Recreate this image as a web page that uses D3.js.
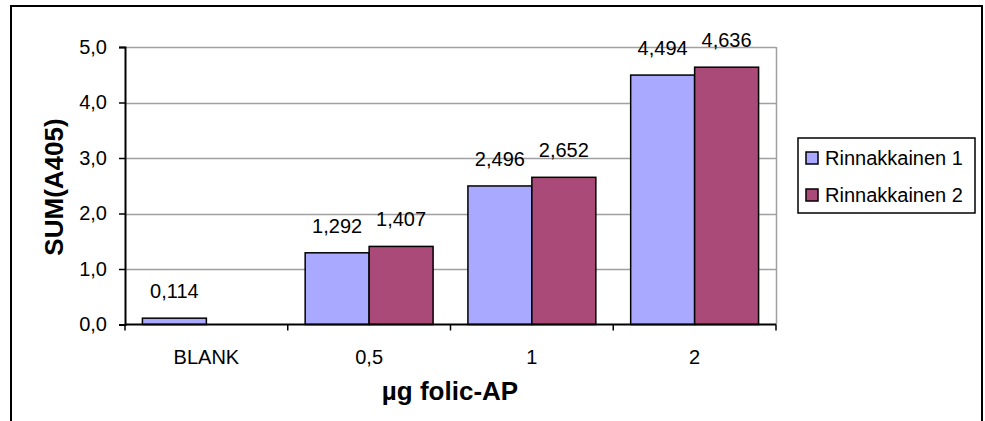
<!DOCTYPE html>
<html>
<head>
<meta charset="utf-8">
<script src="https://cdn.jsdelivr.net/npm/d3@7"></script>
<style>
  html, body { margin: 0; padding: 0; background: #fff; }
  svg { display: block; font-family: "Liberation Sans", Arial, sans-serif; }
</style>
</head>
<body>
<div id="chart"></div>
<script>
const categories = ["BLANK", "0,5", "1", "2"];
const seriesNames = ["Rinnakkainen 1", "Rinnakkainen 2"];
const rinnakkainen1 = [0.114, 1.292, 2.496, 4.494];
const rinnakkainen2 = [null, 1.407, 2.652, 4.636];
const yTicks = [0, 1, 2, 3, 4, 5];
const colors = ["#a9a9ff", "#a94a78"];

const width = 985, height = 421;
const margin = { top: 47, right: 209, bottom: 96.5, left: 125 };

const svg = d3.select("#chart").append("svg")
  .attr("width", width)
  .attr("height", height);

// outer chart border (bottom edge falls outside the picture)
svg.append("rect")
  .attr("x", 11).attr("y", 6)
  .attr("width", 971).attr("height", 430)
  .attr("fill", "none").attr("stroke", "#000").attr("stroke-width", 2);

const x0 = d3.scaleBand()
  .domain(categories)
  .range([margin.left, width - margin.right])
  .padding(0);

const x1 = d3.scaleBand()
  .domain(seriesNames)
  .range([x0.bandwidth() * 0.107, x0.bandwidth() * 0.893])
  .padding(0);

const y = d3.scaleLinear()
  .domain([0, 5])
  .range([height - margin.bottom, margin.top]);

const fmt = v => v.toFixed(1).replace(".", ",");
const fmt3 = v => v.toFixed(3).replace(".", ",");

// gridlines
svg.append("g")
  .selectAll("line").data(yTicks.slice(1))
  .join("line")
  .attr("x1", margin.left).attr("x2", width - margin.right)
  .attr("y1", d => Math.round(y(d)) + 0.5).attr("y2", d => Math.round(y(d)) + 0.5)
  .attr("stroke", "#a0a0a0").attr("stroke-width", 1.5);

// plot area border (right side)
svg.append("line")
  .attr("x1", width - margin.right + 0.5).attr("x2", width - margin.right + 0.5)
  .attr("y1", margin.top).attr("y2", y(0))
  .attr("stroke", "#a0a0a0").attr("stroke-width", 1.5);

const rows = categories.map((c, i) => ({
  cat: c,
  vals: [rinnakkainen1[i], rinnakkainen2[i]]
}));

const groups = svg.selectAll("g.cat").data(rows)
  .join("g")
  .classed("cat", true)
  .attr("transform", d => `translate(${x0(d.cat)},0)`);

groups.selectAll("rect")
  .data(d => d.vals.map((v, j) => ({ s: seriesNames[j], v, j })).filter(e => e.v != null))
  .join("rect")
  .attr("x", d => x1(d.s))
  .attr("y", d => y(d.v))
  .attr("width", x1.bandwidth())
  .attr("height", d => y(0) - y(d.v))
  .attr("fill", d => colors[d.j])
  .attr("stroke", "#000")
  .attr("stroke-width", 1.5);

groups.selectAll("text.val")
  .data(d => d.vals.map((v, j) => ({ s: seriesNames[j], v, j })).filter(e => e.v != null))
  .join("text")
  .classed("val", true)
  .attr("x", d => x1(d.s) + x1.bandwidth() / 2)
  .attr("y", d => y(d.v) - 20)
  .attr("text-anchor", "middle")
  .attr("font-size", 20)
  .attr("fill", "#000")
  .text(d => fmt3(d.v));

// y axis
const yAxis = svg.append("g")
  .attr("transform", `translate(${margin.left},0)`)
  .call(d3.axisLeft(y).tickValues(yTicks).tickFormat(fmt).tickSize(6).tickPadding(12));
yAxis.select(".domain").attr("stroke-width", 2);
yAxis.selectAll(".tick line").attr("stroke-width", 1.5);
yAxis.selectAll("text").attr("font-size", 20).attr("font-family", "Liberation Sans, Arial, sans-serif").attr("fill", "#000");

// x axis
const xAxis = svg.append("g")
  .attr("transform", `translate(0,${y(0)})`);
xAxis.append("line")
  .attr("x1", margin.left).attr("x2", width - margin.right)
  .attr("stroke", "#000").attr("stroke-width", 2);
xAxis.selectAll("line.tick")
  .data(categories.concat(["end"]))
  .join("line")
  .classed("tick", true)
  .attr("x1", (d, i) => margin.left + i * x0.bandwidth())
  .attr("x2", (d, i) => margin.left + i * x0.bandwidth())
  .attr("y1", 0).attr("y2", 6)
  .attr("stroke", "#000").attr("stroke-width", 1.5);
xAxis.selectAll("text")
  .data(categories)
  .join("text")
  .attr("x", d => x0(d) + x0.bandwidth() / 2)
  .attr("y", 39)
  .attr("text-anchor", "middle")
  .attr("font-size", 20)
  .text(d => d);

// axis titles
svg.append("text")
  .attr("transform", "translate(63,187) rotate(-90)")
  .attr("text-anchor", "middle")
  .attr("font-size", 26)
  .attr("font-weight", "bold")
  .text("SUM(A405)");

svg.append("text")
  .attr("x", 450).attr("y", 400)
  .attr("text-anchor", "middle")
  .attr("font-size", 26)
  .attr("font-weight", "bold")
  .text("µg folic-AP");

// legend
const legend = svg.append("g").attr("transform", "translate(798,138)");
legend.append("rect")
  .attr("width", 177).attr("height", 75)
  .attr("fill", "#fff").attr("stroke", "#000").attr("stroke-width", 1.5);
const items = legend.selectAll("g.item").data(seriesNames)
  .join("g")
  .classed("item", true)
  .attr("transform", (d, i) => `translate(0,${i * 37})`);
items.append("rect")
  .attr("x", 8).attr("y", 14)
  .attr("width", 12).attr("height", 12)
  .attr("fill", (d, i) => colors[i])
  .attr("stroke", "#000").attr("stroke-width", 1.5);
items.append("text")
  .attr("x", 27).attr("y", 27)
  .attr("font-size", 20)
  .text(d => d);
</script>
</body>
</html>
